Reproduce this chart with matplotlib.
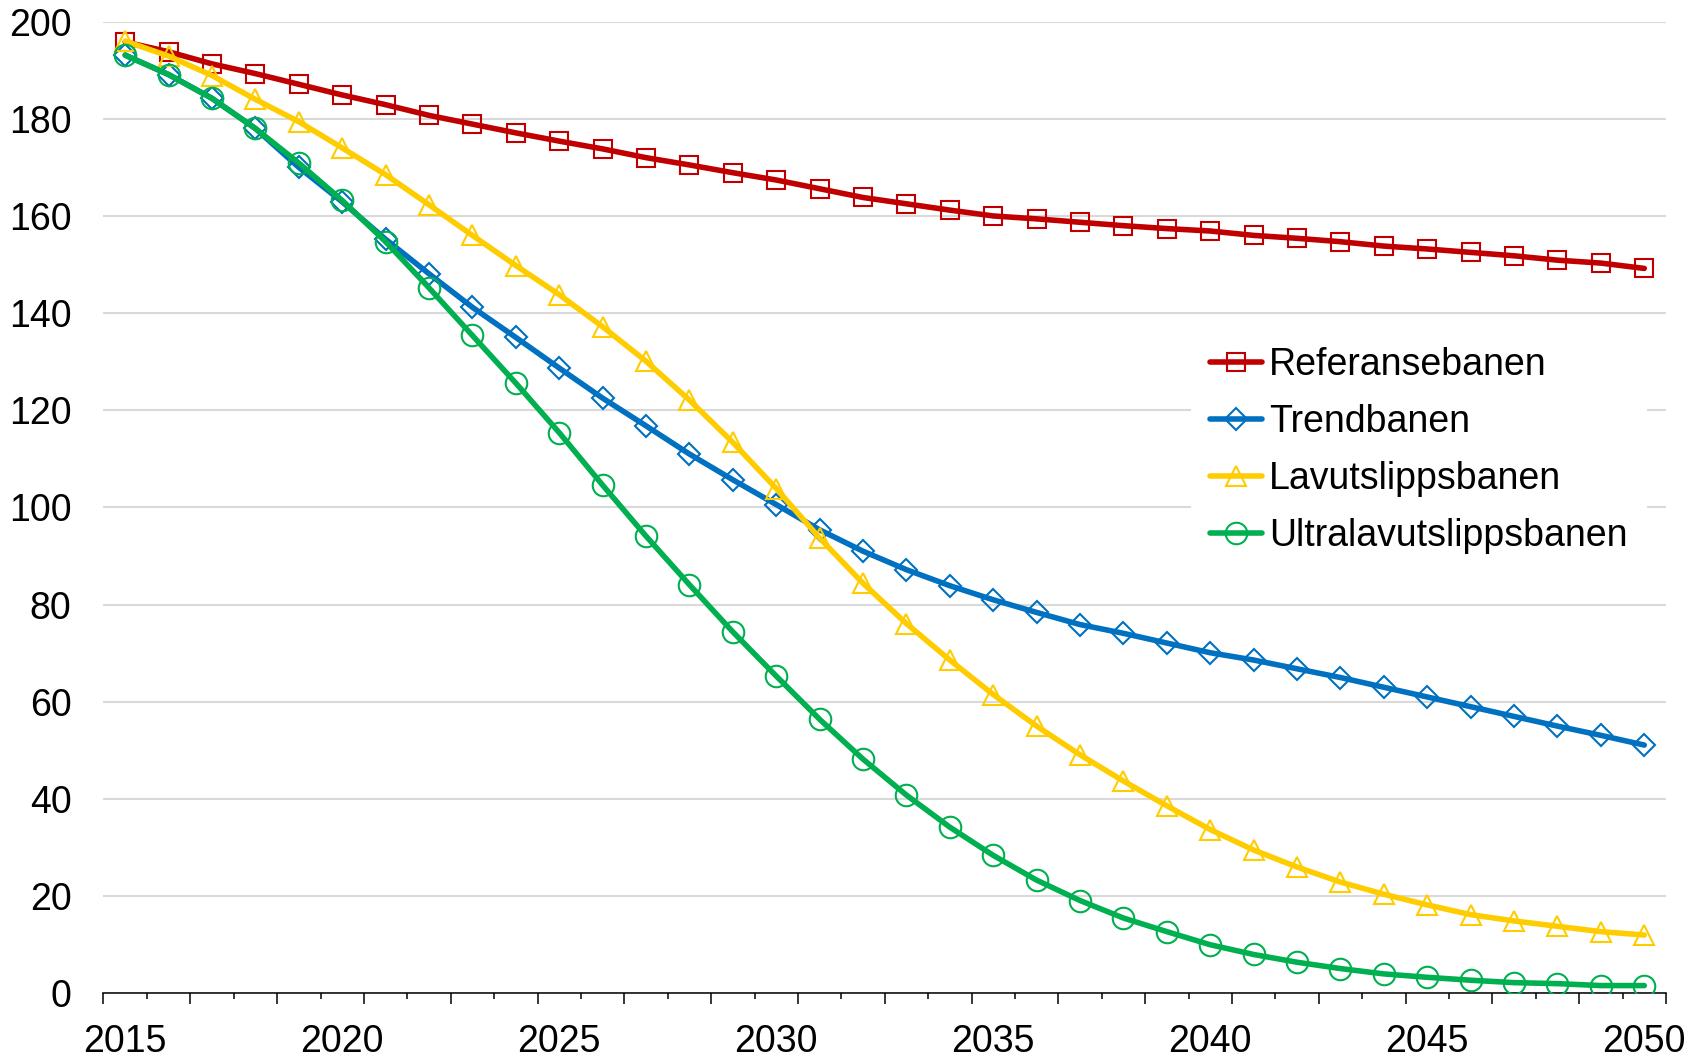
import matplotlib
matplotlib.use("Agg")
import matplotlib.pyplot as plt
from matplotlib.ticker import FixedLocator, NullFormatter
import numpy as np

plt.rcParams["font.family"] = ["Liberation Sans", "DejaVu Sans"]

years = list(range(2015, 2051))

referansebanen = [
    195.8, 193.8, 191.3, 189.3, 187.1, 184.9, 182.9, 180.7, 178.9, 177.1,
    175.4, 173.8, 172.0, 170.5, 168.9, 167.4, 165.6, 163.8, 162.5, 161.2,
    160.0, 159.4, 158.7, 158.0, 157.4, 156.9, 156.0, 155.4, 154.7, 153.8,
    153.2, 152.5, 151.8, 150.9, 150.3, 149.2,
]
trendbanen = [
    193.1, 189.1, 184.2, 178.0, 170.0, 162.9, 155.2, 148.1, 141.2, 135.0,
    128.7, 122.5, 116.8, 111.0, 105.7, 100.6, 95.4, 91.0, 87.2, 83.9,
    81.0, 78.4, 75.9, 74.1, 72.1, 70.1, 68.6, 66.8, 65.0, 63.0,
    61.0, 59.0, 57.0, 55.0, 53.1, 51.1,
]
lavutslippsbanen = [
    196.0, 192.9, 188.9, 184.0, 179.4, 174.0, 168.5, 162.3, 156.0, 149.8,
    143.8, 137.2, 130.1, 122.1, 113.4, 103.9, 93.7, 84.4, 76.1, 68.6,
    61.5, 55.0, 49.1, 43.7, 38.6, 33.7, 29.5, 26.0, 22.9, 20.4,
    18.2, 16.2, 14.9, 13.8, 12.7, 12.0,
]
ultralavutslippsbanen = [
    193.1, 189.1, 184.2, 178.0, 170.9, 163.2, 154.7, 145.2, 135.4, 125.6,
    115.4, 104.6, 94.1, 84.1, 74.4, 65.3, 56.4, 48.2, 40.8, 34.2,
    28.4, 23.3, 19.1, 15.5, 12.7, 10.0, 8.0, 6.4, 5.1, 4.0,
    3.3, 2.7, 2.2, 2.0, 1.6, 1.6,
]

series = [
    ("Referansebanen", referansebanen, "#C00000", "s", 13.5),
    ("Trendbanen", trendbanen, "#0070C0", "D", 11.5),
    ("Lavutslippsbanen", lavutslippsbanen, "#FFCC00", "^", 14.5),
    ("Ultralavutslippsbanen", ultralavutslippsbanen, "#00B050", "o", 15.5),
]

label_years = [2015, 2020, 2025, 2030, 2035, 2040, 2045, 2050]
y_ticks = list(range(0, 201, 20))

fig = plt.figure(figsize=(16.91, 10.59), dpi=100)
ax = fig.add_axes([0.0612, 0.0620, 0.9240, 0.9176])

for name, values, color, marker, msize in series:
    ax.plot(years, values, color=color, lw=4.0, solid_capstyle="round",
            marker=marker, markersize=msize, markerfacecolor="none",
            markeredgecolor=color, markeredgewidth=1.5, label=name, zorder=3)

ax.set_xlim(years[0] - 0.5, years[-1] + 0.5)
ax.set_ylim(0, 200)

# y axis: labels only, light horizontal grid
ax.set_yticks(y_ticks)
ax.tick_params(axis="y", length=0, pad=23, labelsize=27)
ax.grid(axis="y", color="#D9D9D9", lw=1.5, zorder=0)
ax.set_axisbelow(True)

# x axis: category boundaries as tick marks, long every second year
bounds = np.arange(years[0] - 0.5, years[-1] + 1.0, 1.0)
ax.xaxis.set_major_locator(FixedLocator(bounds[::2]))
ax.xaxis.set_minor_locator(FixedLocator(bounds[1::2]))
ax.xaxis.set_major_formatter(NullFormatter())
ax.tick_params(axis="x", which="major", length=8, width=1.1, color="black")
ax.tick_params(axis="x", which="minor", length=4.5, width=1.1, color="black")

labels_ax = ax.secondary_xaxis("bottom")
labels_ax.set_xticks(label_years)
labels_ax.set_xticklabels([str(y) for y in label_years])
labels_ax.tick_params(length=0, pad=22, labelsize=27)
labels_ax.spines["bottom"].set_visible(False)

for side in ("left", "right", "top"):
    ax.spines[side].set_visible(False)
ax.spines["bottom"].set_color("black")
ax.spines["bottom"].set_linewidth(1.1)

leg = ax.legend(loc="upper left", bbox_to_anchor=(0.696, 0.684), fontsize=27,
                frameon=True, fancybox=False, borderpad=0.5, handlelength=1.39,
                handletextpad=0.2, labelspacing=0.56, borderaxespad=0)
leg.get_frame().set_facecolor("white")
leg.get_frame().set_edgecolor("none")
leg.get_frame().set_alpha(1.0)
leg.set_zorder(5)

fig.savefig("out.png", dpi=100)
